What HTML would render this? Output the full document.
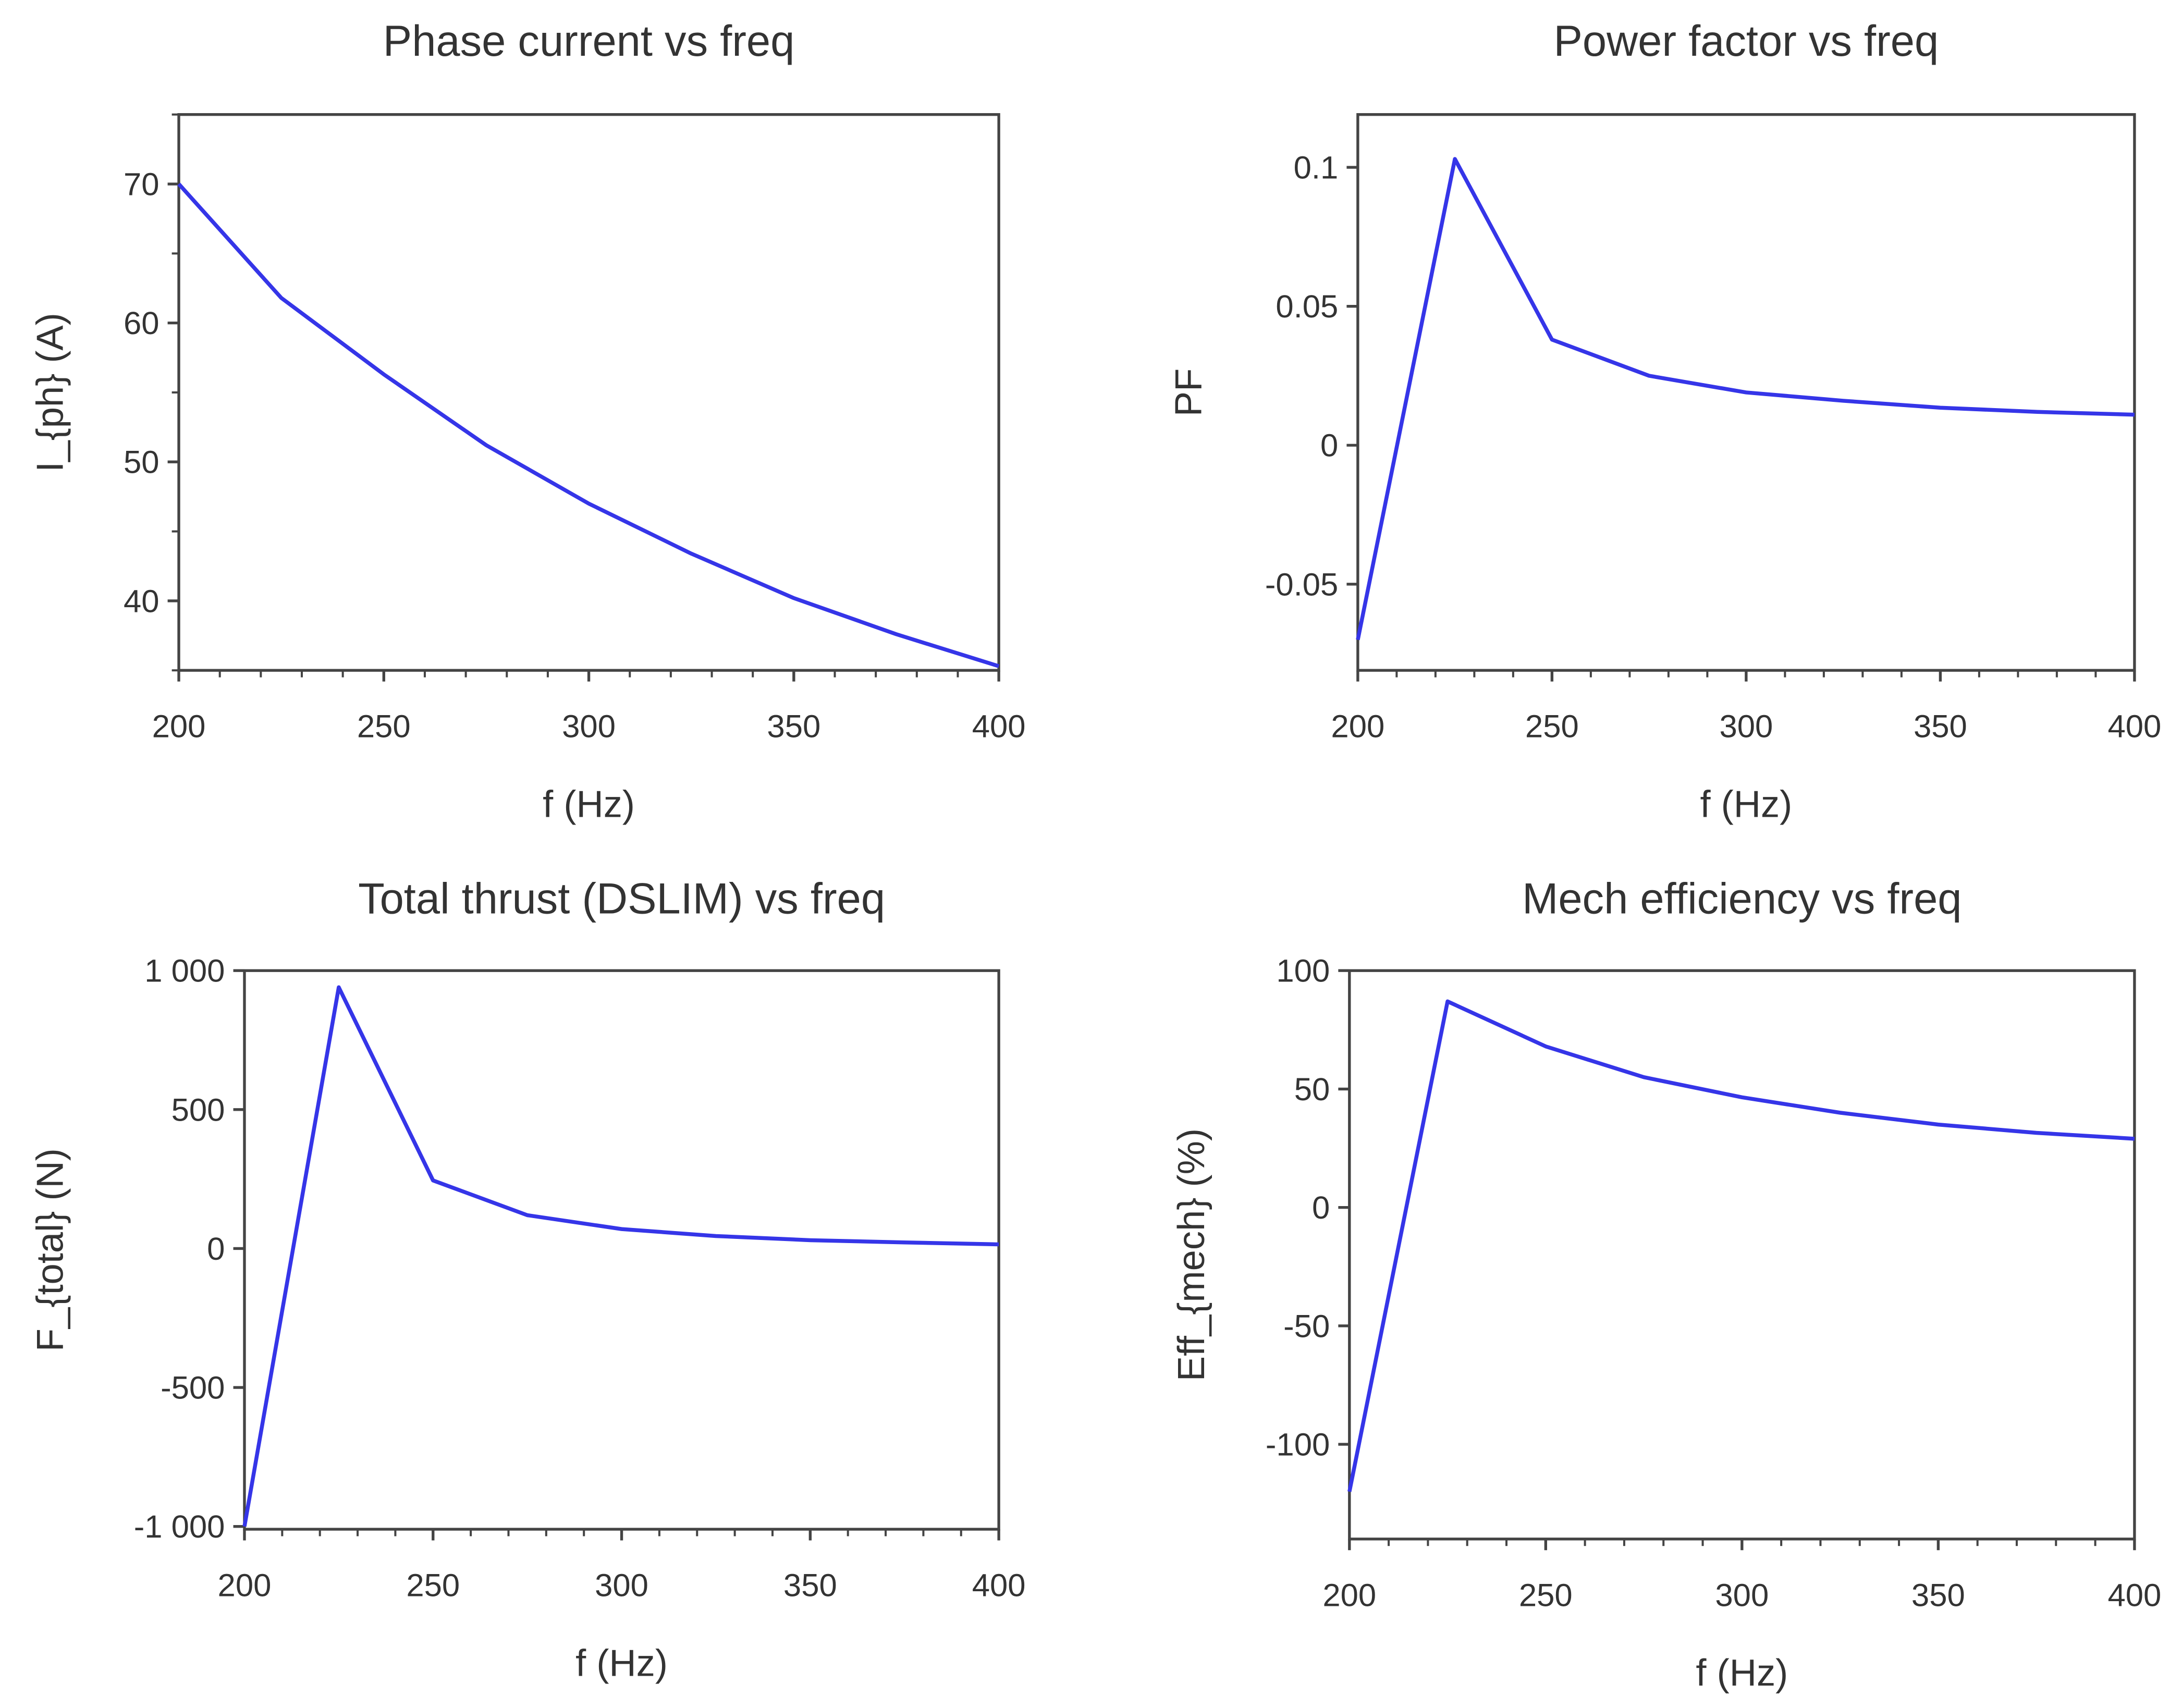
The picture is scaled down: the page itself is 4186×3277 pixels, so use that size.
<!DOCTYPE html>
<html><head><meta charset="utf-8"><style>
html,body{margin:0;padding:0;background:#fff}
svg{display:block}
text{font-family:"Liberation Sans",sans-serif;fill:#333}
</style></head><body>
<svg id="fig" width="4186" height="3277" viewBox="0 0 1562 1223" preserveAspectRatio="none" xmlns="http://www.w3.org/2000/svg"></svg>
<script>
const freqs=[200,225,250,275,300,325,350,375,400];
const currentVals=[70,61.8,56.3,51.2,47,43.4,40.2,37.6,35.3];
const pfVals=[-0.07,0.103,0.038,0.025,0.019,0.016,0.0135,0.012,0.011];
const thrustVals=[-1000,940,245,120,70,45,30,22,15];
const effVals=[-120,87,68,55,46.5,40,35,31.5,29];
const xTicks=[200,250,300,350,400];
const currentTicks=[40,50,60,70];
const pfTicks=[-0.05,0,0.05,0.1];
const pfTickLabels=["-0.05","0","0.05","0.1"];
const thrustTicks=[-1000,-500,0,500,1000];
const thrustTickLabels=["-1 000","-500","0","500","1 000"];
const effTicks=[-100,-50,0,50,100];

const NS="http://www.w3.org/2000/svg";
const svg=document.getElementById('fig');
function mk(tag,attrs,parent){const e=document.createElementNS(NS,tag);for(const k in attrs)e.setAttribute(k,attrs[k]);(parent||svg).appendChild(e);return e;}

function panel(o){
  const g=mk('g',{});
  
  
  const xs=v=>o.x0+(v-200)/200*(o.x1-o.x0);
  const ys=v=>o.y1-(v-o.ymin)/(o.ymax-o.ymin)*(o.y1-o.y0);
  const t=mk('text',{x:(o.x0+o.x1)/2,y:o.ty,'text-anchor':'middle','font-size':31},g);t.textContent=o.title;
  
  
  const fr=mk('rect',{x:o.x0,y:o.y0,width:o.x1-o.x0,height:o.y1-o.y0,fill:'none',stroke:'#444','stroke-width':2},g);
  
  
  for(let v=200;v<=400;v+=10){const X=xs(v);const maj=(v%50===0);mk('line',{x1:X,x2:X,y1:o.y1,y2:o.y1+(maj?8:5),stroke:'#444','stroke-width':maj?2:1.5},g);}
  xTicks.forEach(v=>{const l=mk('text',{x:xs(v),y:o.y1+48,'text-anchor':'middle','font-size':23},g);l.textContent=v;
    
    });
  const step=o.ticks[1]-o.ticks[0];
  for(let i=0;i<o.ticks.length;i++){
    const v=o.ticks[i];const Y=ys(v);
    mk('line',{x1:o.x0-8,x2:o.x0,y1:Y,y2:Y,stroke:'#444','stroke-width':2},g);
    const l=mk('text',{x:o.x0-14,y:Y+8,'text-anchor':'end','font-size':23},g);l.textContent=o.labels?o.labels[i]:v;
    
    
  }
  if(o.minor){for(let v=o.ticks[0]-step/2;v<=o.ymax;v+=step/2){if(v<o.ymin)continue;const Y=ys(v);mk('line',{x1:o.x0-5,x2:o.x0,y1:Y,y2:Y,stroke:'#444','stroke-width':1.5},g);}}
  const xl=mk('text',{x:(o.x0+o.x1)/2,y:o.y1+105,'text-anchor':'middle','font-size':27},g);xl.textContent='f (Hz)';
  
  
  const yc=(o.y0+o.y1)/2;
  const yl=mk('text',{x:o.ylx,y:yc,'text-anchor':'middle','font-size':27,transform:`rotate(-90 ${o.ylx} ${yc})`},g);yl.textContent=o.ylabel;
  
  
  const pts=freqs.map((f,i)=>xs(f)+','+ys(o.vals[i])).join(' ');
  const p=mk('polyline',{points:pts,fill:'none',stroke:'#3535e8','stroke-width':2.8,'stroke-linejoin':'round'},g);
  
  
}
panel({name:'phase-current-chart',title:'Phase current vs freq',x0:128,x1:715,y0:82,y1:480,ymin:35,ymax:75,ticks:currentTicks,minor:true,vals:currentVals,ylabel:'I_{ph} (A)',ylx:45,ty:40});
panel({name:'power-factor-chart',title:'Power factor vs freq',x0:972,x1:1528,y0:82,y1:480,ymin:-0.081,ymax:0.119,ticks:pfTicks,labels:pfTickLabels,vals:pfVals,ylabel:'PF',ylx:860,ty:40});
panel({name:'total-thrust-chart',title:'Total thrust (DSLIM) vs freq',x0:175,x1:715,y0:695,y1:1095,ymin:-1010,ymax:1000,ticks:thrustTicks,labels:thrustTickLabels,vals:thrustVals,ylabel:'F_{total} (N)',ylx:45,ty:654});
panel({name:'mech-efficiency-chart',title:'Mech efficiency vs freq',x0:966,x1:1528,y0:695,y1:1102,ymin:-140,ymax:100,ticks:effTicks,vals:effVals,ylabel:'Eff_{mech} (%)',ylx:862,ty:654});
</script>
</body></html>
